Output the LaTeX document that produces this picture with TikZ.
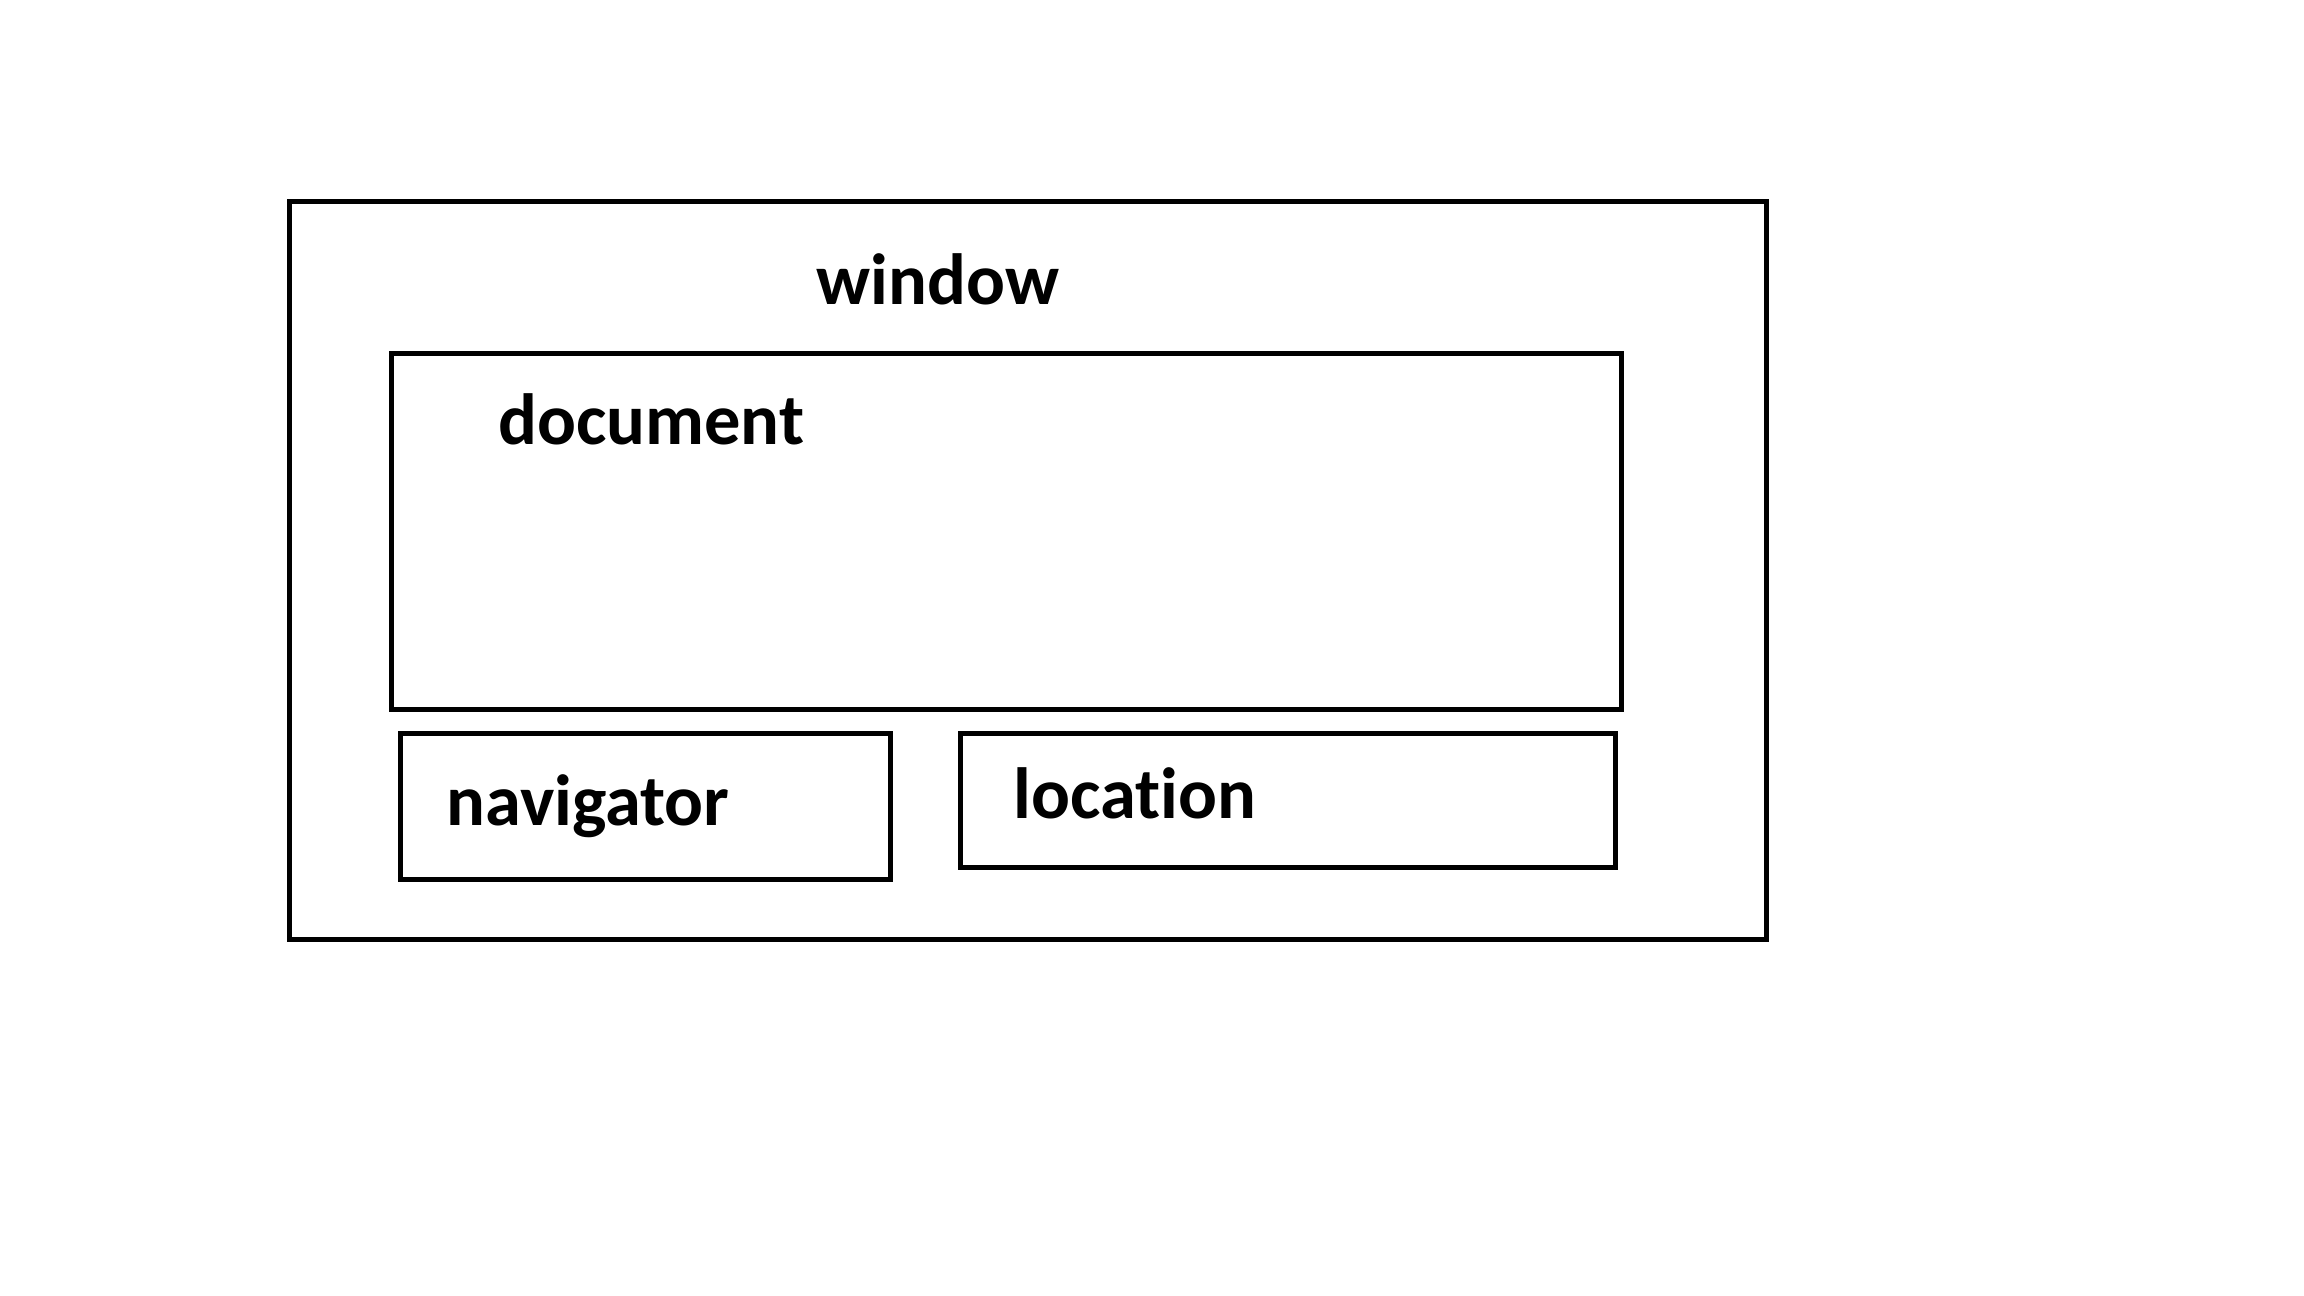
\documentclass[tikz,border=0pt]{standalone}
\usepackage{fontspec}
\setmainfont{Carlito}[Ligatures={NoCommon}]
\begin{document}
\begin{tikzpicture}[x=0.5pt,y=-0.5pt,
  box/.style={draw=black, line width=2.5pt, inner sep=0pt, fill=none},
  lbl/.style={anchor=base west, inner sep=0pt, font=\fontsize{36.25pt}{40pt}\selectfont\bfseries}]
\useasboundingbox[fill=white] (0,0) rectangle (2304,1296);
\node[box, minimum width=738.5pt, minimum height=369pt] (window) at (1028,570.5) {};
\node[box, minimum width=615pt, minimum height=178pt] (document) at (1006.5,531.5) {};
\node[box, minimum width=245pt, minimum height=72.75pt] (navigator) at (645.5,806.25) {};
\node[box, minimum width=327.5pt, minimum height=66.75pt] (location) at (1288,800.25) {};
\node[lbl] (twindow) at (816,304) {window};
\node[lbl] (tdocument) at (498,444) {document};
\node[lbl] (tnavigator) at (446,825) {navigator};
\node[lbl] (tlocation) at (1013,818) {location};
\end{tikzpicture}
\end{document}
